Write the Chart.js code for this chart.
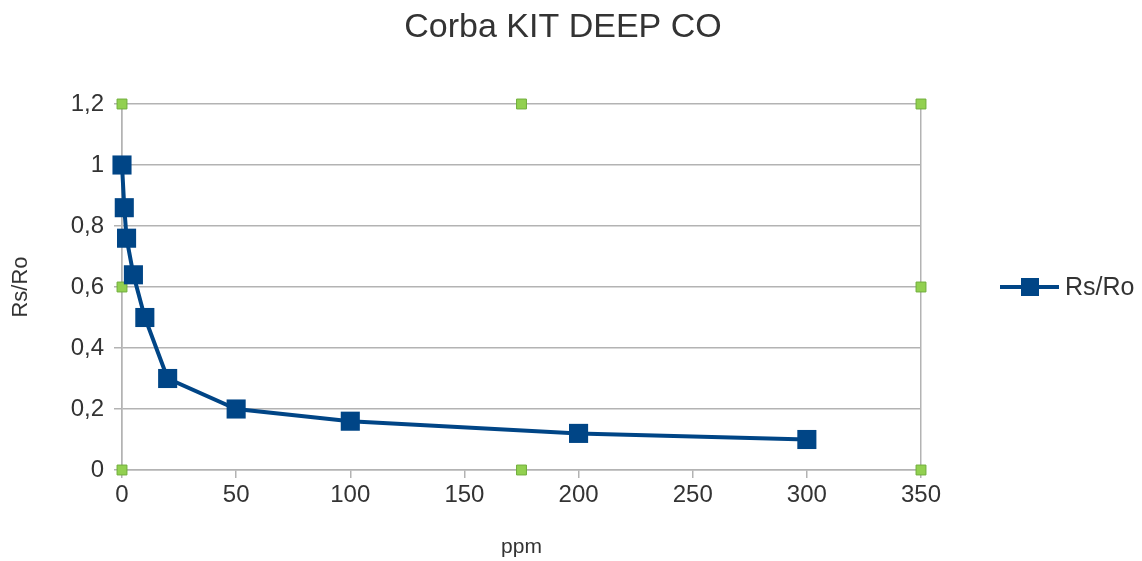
<!DOCTYPE html>
<html>
<head>
<meta charset="utf-8">
<title>Corba KIT DEEP CO</title>
<script src="https://cdn.jsdelivr.net/npm/chart.js@4"></script>
<style>
  html, body { margin: 0; padding: 0; background: #fff; }
</style>
</head>
<body>
<canvas id="myChart" width="1142" height="561"></canvas>
<script>
const chartTitle = "Corba KIT DEEP CO";
const ppm = [0, 1, 2, 5, 10, 20, 50, 100, 200, 300];
const rsRo = [1, 0.86, 0.76, 0.64, 0.5, 0.3, 0.2, 0.16, 0.12, 0.1];

// selection handles left in the screenshot (LibreOffice)
const handleX = [0, 0, 0, 175, 175, 350, 350, 350];
const handleY = [0, 0.6, 1.2, 0, 1.2, 0, 0.6, 1.2];

const lineColor = "#004586";
const gridColor = "#b3b3b3";
const textColor = "#333333";
const font = "'Liberation Sans', Arial, sans-serif";

// title centred on the whole picture and legend at the right, drawn by hand
const extrasPlugin = {
  id: "extras",
  afterDraw(chart) {
    const ctx = chart.ctx;
    const ds = chart.data.datasets[0];
    ctx.save();
    ctx.fillStyle = textColor;
    ctx.font = "34px " + font;
    ctx.textAlign = "center";
    ctx.textBaseline = "middle";
    ctx.fillText(chartTitle, 563, 28);

    const y = 287;
    ctx.strokeStyle = ds.borderColor;
    ctx.lineWidth = 4;
    ctx.beginPath();
    ctx.moveTo(1000, y);
    ctx.lineTo(1059, y);
    ctx.stroke();
    ctx.fillStyle = ds.borderColor;
    ctx.fillRect(1021, y - 9, 18, 18);
    ctx.fillStyle = textColor;
    ctx.font = "25px " + font;
    ctx.textAlign = "left";
    ctx.fillText(ds.label, 1065, y + 1);
    ctx.restore();
  },
};

new Chart(document.getElementById("myChart"), {
  type: "scatter",
  data: {
    datasets: [
      {
        label: "Rs/Ro",
        data: ppm.map((x, i) => ({ x: x, y: rsRo[i] })),
        showLine: true,
        borderColor: lineColor,
        backgroundColor: lineColor,
        borderWidth: 4,
        pointStyle: "rect",
        pointRadius: 13.5,
        pointBorderWidth: 0,
        clip: false,
        order: 1,
      },
      {
        label: "handles",
        data: handleX.map((x, i) => ({ x: x, y: handleY[i] })),
        showLine: false,
        pointStyle: "rect",
        pointRadius: 7,
        backgroundColor: "#92d050",
        borderColor: "#6fae3a",
        pointBorderWidth: 1,
        clip: false,
        order: 2,
      },
    ],
  },
  options: {
    responsive: false,
    animation: false,
    layout: { padding: { left: 0, right: 221, top: 104, bottom: 0 } },
    plugins: {
      legend: { display: false },
      tooltip: { enabled: false },
      title: { display: false },
    },
    scales: {
      x: {
        type: "linear",
        min: 0,
        max: 350,
        afterFit: (scale) => { scale.height = 91; },
        ticks: {
          stepSize: 50,
          color: textColor,
          font: { family: font, size: 24 },
          padding: 3,
          maxRotation: 0,
        },
        grid: {
          color: (c) => (c.index === 0 || c.index === 7 ? gridColor : "rgba(0,0,0,0)"),
          tickColor: gridColor,
          tickLength: 8,
          lineWidth: 1.5,
        },
        border: { color: gridColor, width: 1.5 },
        title: {
          display: true,
          text: "ppm",
          color: textColor,
          font: { family: font, size: 21 },
          padding: { top: 4, bottom: 1 },
        },
      },
      y: {
        min: 0,
        max: 1.2,
        afterFit: (scale) => { scale.width = 122; },
        ticks: {
          stepSize: 0.2,
          color: textColor,
          font: { family: font, size: 24 },
          padding: 10,
          callback: (v) => String(Math.round(v * 10) / 10).replace(".", ","),
        },
        grid: { color: gridColor, tickLength: 8, lineWidth: 1.5 },
        border: { color: gridColor, width: 1.5 },
        title: {
          display: true,
          text: "Rs/Ro",
          color: textColor,
          font: { family: font, size: 22 },
          padding: { top: 8, bottom: 0 },
        },
      },
    },
  },
  plugins: [extrasPlugin],
});
</script>
</body>
</html>
